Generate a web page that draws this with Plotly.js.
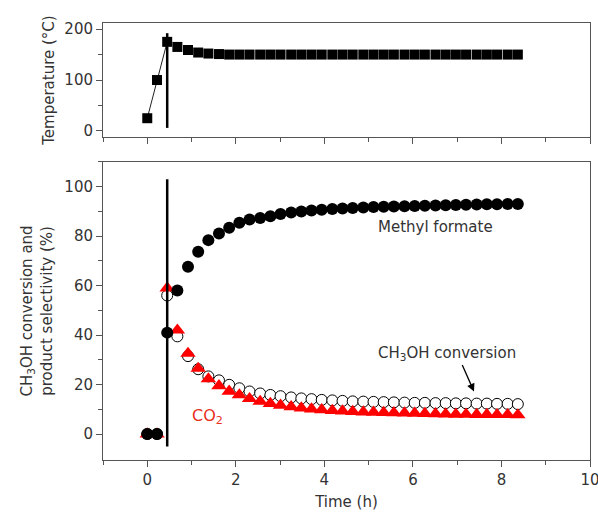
<!DOCTYPE html>
<html>
<head>
<meta charset="utf-8">
<script src="https://cdn.plot.ly/plotly-3.0.1.min.js"></script>
<style>html,body{margin:0;padding:0;background:#fff;}</style>
</head>
<body>
<div id="chart" style="width:598px;height:514px;"></div>
<script>
// Time (h)
const timeH = [0, 0.22, 0.45, 0.68, 0.92, 1.15, 1.38, 1.62, 1.85, 2.08, 2.31, 2.55, 2.78, 3.01, 3.25, 3.48, 3.71, 3.94, 4.18, 4.41, 4.64, 4.88, 5.11, 5.34, 5.57, 5.81, 6.04, 6.27, 6.51, 6.74, 6.97, 7.2, 7.44, 7.67, 7.9, 8.14, 8.37];
// Temperature (°C)
const temperature = [25, 100, 175, 165, 159, 154, 152, 151, 150, 150, 150, 150, 150, 150, 150, 150, 150, 150, 150, 150, 150, 150, 150, 150, 150, 150, 150, 150, 150, 150, 150, 150, 150, 150, 150, 150, 150];
// Methyl formate selectivity (%)
const methylFormate = [0, 0, 41, 58, 67.6, 73.7, 78.4, 81.1, 83.4, 85.4, 86.7, 87.3, 88.1, 89.0, 89.6, 90.0, 90.4, 90.7, 91.0, 91.2, 91.4, 91.6, 91.8, 91.9, 92.0, 92.1, 92.2, 92.3, 92.4, 92.5, 92.6, 92.7, 92.8, 92.9, 92.9, 93.0, 93.0];
// CH3OH conversion (%)
const conversion = [0, 0, 56, 39.5, 31.5, 26.2, 23.3, 21.7, 19.9, 18.5, 17.2, 16.4, 15.8, 15.3, 14.8, 14.4, 14.1, 13.8, 13.6, 13.4, 13.2, 13.1, 13.0, 12.9, 12.8, 12.7, 12.6, 12.6, 12.5, 12.5, 12.4, 12.4, 12.3, 12.3, 12.2, 12.2, 12.1];
// CO2 selectivity (%)
const co2 = [0, 0, 59, 42, 32.6, 26.5, 22.3, 19.5, 17.3, 15.8, 14.3, 13.2, 12.3, 11.6, 11.0, 10.5, 10.1, 9.8, 9.5, 9.3, 9.1, 8.9, 8.8, 8.7, 8.6, 8.5, 8.4, 8.3, 8.2, 8.1, 8.0, 8.0, 7.9, 7.9, 7.8, 7.8, 7.7];
// Ramp segment (connected by a thin line)
const rampCount = 3;
const switchTime = 0.45;

const textColor = '#333';
const axisColor = '#555';
const fam = 'DejaVu Sans, sans-serif';
const font = {family: fam, size: 15, color: textColor};

const traces = [
  {x: timeH.slice(0, rampCount), y: temperature.slice(0, rampCount), xaxis: 'x', yaxis: 'y',
   mode: 'lines', line: {color: '#222', width: 1}, hoverinfo: 'skip'},
  {x: timeH, y: temperature, xaxis: 'x', yaxis: 'y', mode: 'markers',
   marker: {symbol: 'square', size: 10, color: '#000'}},
  {x: timeH, y: conversion, xaxis: 'x2', yaxis: 'y2', mode: 'markers',
   marker: {symbol: 'circle', size: 11, color: '#fff', line: {color: '#000', width: 1}}},
  {x: timeH, y: co2, xaxis: 'x2', yaxis: 'y2', mode: 'markers',
   marker: {symbol: 'triangle-up', size: 13.5, color: '#ff0000', line: {width: 0}}},
  {x: timeH, y: methylFormate, xaxis: 'x2', yaxis: 'y2', mode: 'markers',
   marker: {symbol: 'circle', size: 12, color: '#000'}}
];

const xCommon = {
  range: [-1, 10], tickvals: [0, 2, 4, 6, 8, 10], ticks: 'outside', ticklen: 6, tickwidth: 1,
  tickcolor: axisColor, showline: true, linecolor: axisColor, linewidth: 1, mirror: true,
  showgrid: false, zeroline: false, ticklabeloverflow: 'allow',
  minor: {tickvals: [-1, 1, 3, 5, 7, 9], ticks: 'outside', ticklen: 4, tickcolor: axisColor, showgrid: false}
};

const layout = {
  width: 598, height: 514,
  margin: {l: 103, r: 8, t: 23, b: 54},
  paper_bgcolor: '#fff', plot_bgcolor: '#fff',
  showlegend: false,
  font: font,
  xaxis: Object.assign({}, xCommon, {anchor: 'y', showticklabels: false}),
  yaxis: {domain: [0.739, 1], range: [-12, 212], tickvals: [0, 100, 200], ticks: 'outside', ticklen: 6,
          tickcolor: axisColor, showline: true, linecolor: axisColor, mirror: true, showgrid: false,
          zeroline: false, tickfont: font,
          minor: {tickvals: [50, 150], ticks: 'outside', ticklen: 4, tickcolor: axisColor, showgrid: false},
          title: {text: 'Temperature (°C)', font: font, standoff: 6}},
  xaxis2: Object.assign({}, xCommon, {anchor: 'y2', tickfont: font,
          title: {text: 'Time (h)', font: font, standoff: 8}}),
  yaxis2: {domain: [0, 0.682], range: [-10.5, 110], tickvals: [0, 20, 40, 60, 80, 100], ticks: 'outside',
          ticklen: 6, tickcolor: axisColor, showline: true, linecolor: axisColor, mirror: true,
          showgrid: false, zeroline: false, tickfont: font,
          minor: {tickvals: [10, 30, 50, 70, 90, 110], ticks: 'outside', ticklen: 4, tickcolor: axisColor, showgrid: false},
          title: {text: 'CH<sub>3</sub>OH conversion and<br>product selectivity (%)', font: font, standoff: 8}},
  shapes: [
    {type: 'line', xref: 'x', yref: 'y', x0: switchTime, x1: switchTime, y0: 6, y1: 192,
     line: {color: '#000', width: 2.5}},
    {type: 'line', xref: 'x2', yref: 'y2', x0: switchTime, x1: switchTime, y0: -5, y1: 103,
     line: {color: '#000', width: 2.5}}
  ],
  annotations: [
    {xref: 'x2', yref: 'y2', x: 6.52, y: 83.8, text: 'Methyl formate', showarrow: false, font: font},
    {xref: 'x2', yref: 'y2', x: 6.77, y: 32.7, text: 'CH<sub>3</sub>OH conversion', showarrow: false, font: font},
    {xref: 'x2', yref: 'y2', x: 7.38, y: 17.2, ax: 7.1, ay: 28.5, axref: 'x2', ayref: 'y2',
     text: '', showarrow: true, arrowhead: 2, arrowsize: 1.2, arrowwidth: 1.3, arrowcolor: '#000'},
    {xref: 'x2', yref: 'y2', x: 1.35, y: 6.9, text: 'CO<sub>2</sub>', showarrow: false,
     font: {family: fam, size: 16, color: '#e8301c'}}
  ]
};

Plotly.newPlot('chart', traces, layout, {displayModeBar: false, staticPlot: true});
</script>
</body>
</html>
